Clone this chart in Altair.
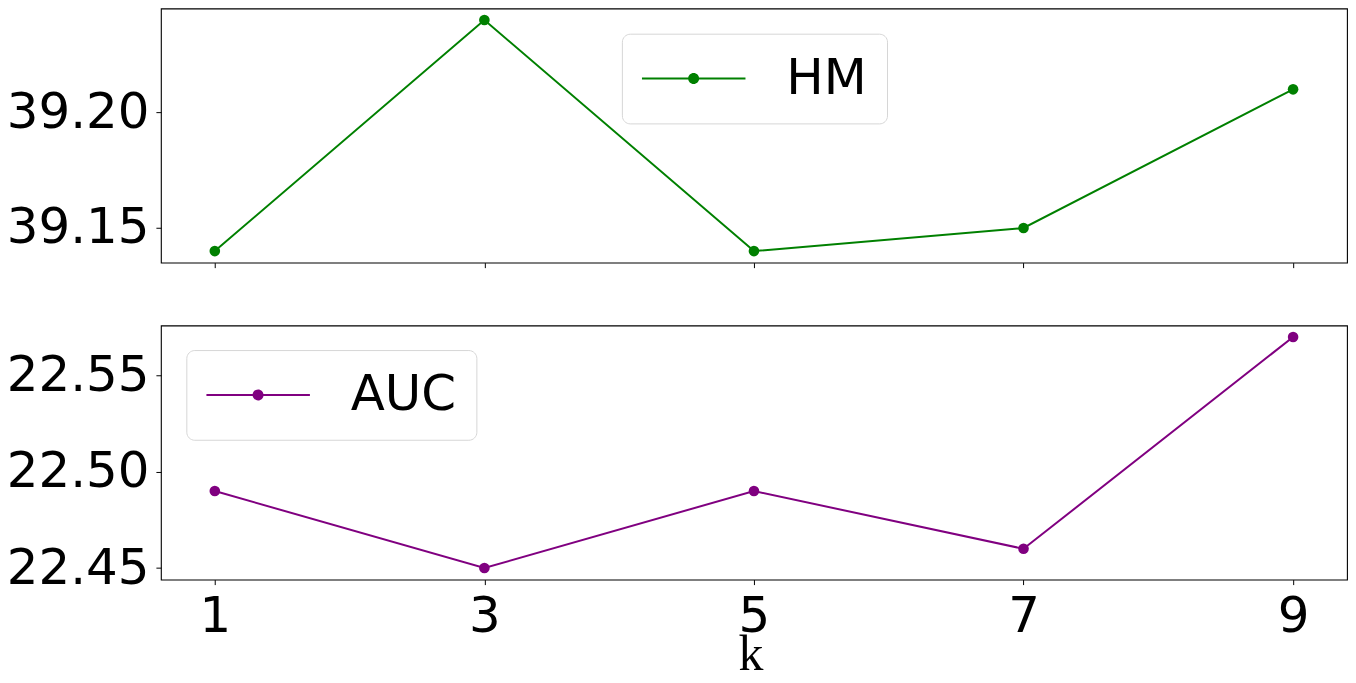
import altair as alt
import pandas as pd

# ---- data ----
k_values = [1, 3, 5, 7, 9]
hm_values = [39.14, 39.24, 39.14, 39.15, 39.21]
auc_values = [22.49, 22.45, 22.49, 22.46, 22.57]
x_ticks = [1, 3, 5, 7, 9]
hm_ticks = [39.15, 39.20]
auc_ticks = [22.45, 22.50, 22.55]
hm_domain = [39.135, 39.245]
auc_domain = [22.444, 22.576]
x_domain = [0.6, 9.4]

hm_df = pd.DataFrame({"k": k_values, "value": hm_values, "series": ["HM"] * len(k_values)})
auc_df = pd.DataFrame({"k": k_values, "value": auc_values, "series": ["AUC"] * len(k_values)})

FONT = "DejaVu Sans"
# line with a dot in the middle (legend handle); both sub-paths drawn clockwise
LEGEND_SYMBOL = ("M-1,-0.019H1V0.019H-1Z "
                 "M-0.106,0A0.106,0.106 0 1,1 0.106,0A0.106,0.106 0 1,1 -0.106,0Z")

PW, PH = 1190, 255


def panel(df, name, color, ydomain, yticks, lx, ly, bottom):
    x = alt.X(
        "k:Q",
        scale=alt.Scale(domain=x_domain, nice=False, zero=False),
        axis=alt.Axis(
            values=x_ticks,
            labels=bottom,
            title="k" if bottom else None,
            titleFont="Liberation Serif",
            titleFontSize=50,
            titleFontWeight="normal",
            titleColor="black",
            titleBaseline="alphabetic",
            titleAlign="center",
            titleX=591.5,
            titleY=90,
        ),
    )
    y = alt.Y(
        "value:Q",
        scale=alt.Scale(domain=ydomain, nice=False, zero=False),
        axis=alt.Axis(values=yticks, format=".2f", title=None),
    )
    line = alt.Chart(df).mark_line(color=color, strokeWidth=2).encode(x=x, y=y)
    pts = alt.Chart(df).mark_point(filled=True, size=113, opacity=1).encode(
        x=x,
        y=y,
        color=alt.Color(
            "series:N",
            scale=alt.Scale(domain=[name], range=[color]),
            legend=alt.Legend(
                title=None,
                orient="none",
                legendX=lx,
                legendY=ly,
                symbolType=LEGEND_SYMBOL,
                symbolSize=10816,
                symbolStrokeWidth=0,
                symbolOpacity=1,
                clipHeight=50,
                labelFont=FONT,
                labelFontSize=50,
                labelColor="black",
                labelOffset=41,
                padding=20,
                strokeColor="#d6d6d6",
                fillColor="white",
                cornerRadius=8,
            ),
        ),
    )
    return alt.layer(line, pts).properties(width=PW, height=PH)


top = panel(hm_df, "HM", "#008000", hm_domain, hm_ticks, 462.5, 25.3, False)
bot = panel(auc_df, "AUC", "#800080", auc_domain, auc_ticks, 25.5, 24.7, True)

chart = (
    alt.vconcat(top, bot, spacing=55)
    .resolve_scale(color="independent", x="independent", y="independent")
    .resolve_legend(color="independent")
    .properties(padding={"left": -2.6, "top": -1.6, "right": 0, "bottom": -9.2})
    .configure_view(stroke="black", strokeWidth=1.1)
    .configure_axis(
        domain=False,
        grid=False,
        ticks=True,
        tickColor="black",
        tickWidth=1,
        tickSize=5,
        labelFont=FONT,
        labelFontSize=50,
        labelColor="black",
        labelPadding=7,
    )
)

chart.save("out.html", embed_options={"renderer": "svg", "actions": False})
